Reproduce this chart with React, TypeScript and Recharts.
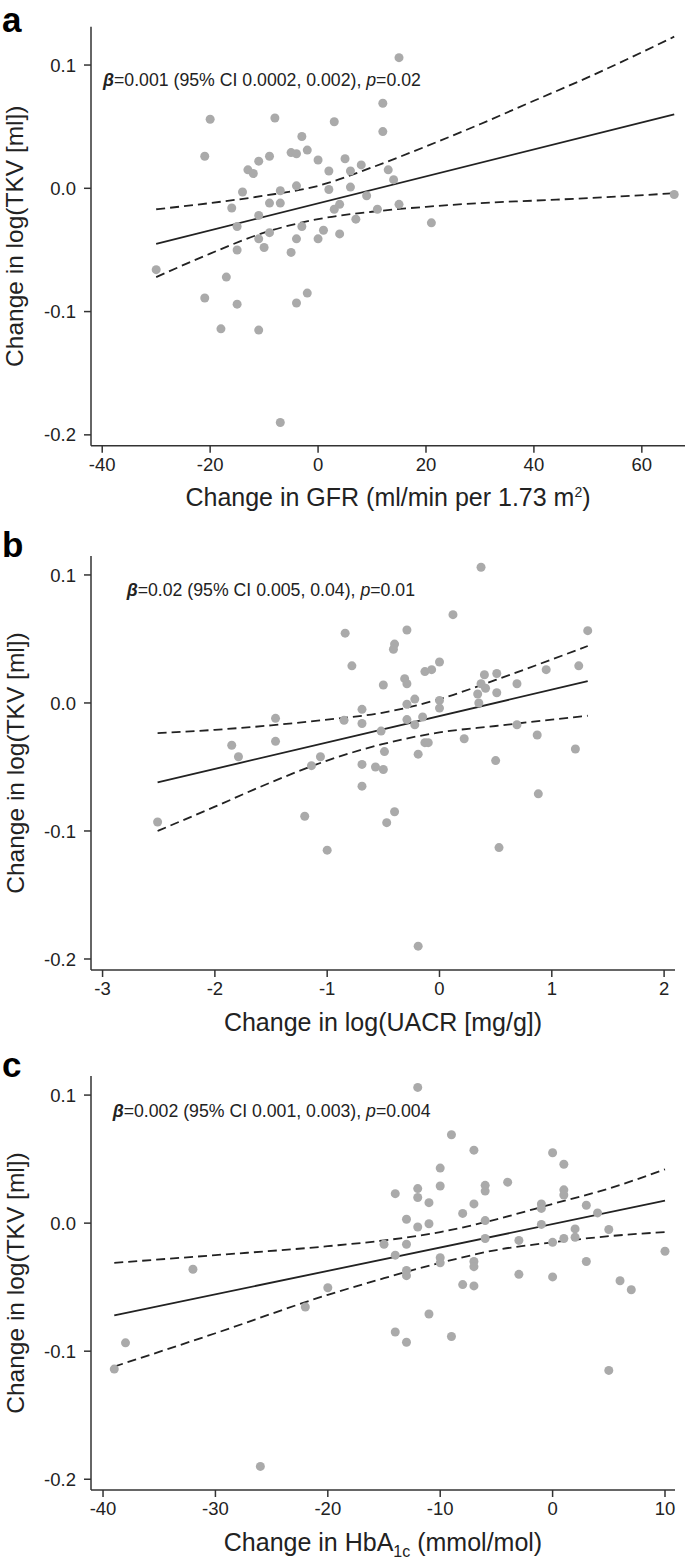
import React from "react"
import { ComposedChart, Scatter, Line, XAxis, YAxis } from "recharts"

const FONT = '"Liberation Sans", Arial, Helvetica, sans-serif'
const INK = "#222"
const AXIS = "#333"
const DOT = "#aaaaaa"

// panel a: change in GFR vs change in log(TKV)
const gfrPoints: [number, number][] = [
  [15, 0.106], [-20, 0.056], [-8, 0.057], [3, 0.054], [12, 0.069], [12, 0.046],
  [-21, 0.026], [-3, 0.042], [-2, 0.031], [-5, 0.029], [-4, 0.028], [-9, 0.026],
  [-11, 0.022], [0, 0.023], [5, 0.024], [8, 0.019], [-13, 0.015], [-12, 0.012],
  [2, 0.014], [6, 0.014], [13, 0.015], [14, 0.007], [-4, 0.002], [6, 0.001],
  [-14, -0.003], [-7, -0.002], [2, -0.001], [9, -0.006], [-9, -0.012], [-7, -0.012],
  [4, -0.013], [15, -0.013], [3, -0.017], [-16, -0.016], [11, -0.017], [-11, -0.022],
  [21, -0.028], [7, -0.025], [-15, -0.031], [-3, -0.031], [1, -0.034], [-9, -0.036],
  [4, -0.037], [-11, -0.041], [-4, -0.041], [0, -0.041], [-15, -0.05], [-10, -0.048],
  [-5, -0.052], [66, -0.005], [-30, -0.066], [-17, -0.072], [-21, -0.089], [-15, -0.094],
  [-2, -0.085], [-4, -0.093], [-18, -0.114], [-11, -0.115], [-7, -0.19],
]
const gfrFit: [number, number][] = [[-30, -0.045], [66, 0.06]]
const gfrUpper: [number, number][] = [
  [-30, -0.017], [-20, -0.012], [-10, -0.006], [0, 0.002], [10, 0.017],
  [20, 0.034], [30, 0.052], [40, 0.071], [50, 0.09], [66, 0.123],
]
const gfrLower: [number, number][] = [
  [-30, -0.072], [-20, -0.053], [-10, -0.036], [0, -0.025], [10, -0.019],
  [20, -0.015], [30, -0.012], [40, -0.01], [50, -0.008], [66, -0.004],
]

// panel b: change in log(UACR)
const uacrPoints: [number, number][] = [
  [-0.84, 0.0545], [-0.29, 0.057], [-0.4, 0.046], [-0.41, 0.042], [-0.78, 0.029], [0, 0.032],
  [-0.13, 0.0245], [-0.07, 0.026], [-0.31, 0.019], [-0.29, 0.015], [-0.5, 0.014], [0.4, 0.022],
  [0.51, 0.023], [0.37, 0.015], [0.41, 0.0115], [0.34, 0.007], [0.51, 0.008], [0.35, 0],
  [0.69, 0.015], [0.95, 0.026], [1.24, 0.029], [1.32, 0.0565], [0, 0.002], [-0.22, 0.003],
  [-0.29, -0.001], [0, -0.004], [-0.69, -0.005], [-1.46, -0.012], [-0.85, -0.0135], [-0.69, -0.016],
  [-0.29, -0.013], [-0.15, -0.011], [-0.22, -0.017], [0.69, -0.017], [-0.52, -0.022], [-1.85, -0.033],
  [-1.79, -0.042], [-1.46, -0.03], [-0.13, -0.031], [-0.1, -0.031], [0.22, -0.028], [0.87, -0.025],
  [1.21, -0.036], [-0.49, -0.038], [-0.19, -0.04], [-1.06, -0.042], [-1.14, -0.049], [-0.69, -0.048],
  [-0.57, -0.05], [-0.5, -0.052], [0.5, -0.045], [-0.69, -0.065], [-2.51, -0.093], [-1.2, -0.0885],
  [-0.4, -0.085], [-0.47, -0.0935], [0.88, -0.071], [-1, -0.115], [0.53, -0.113], [-0.19, -0.19],
  [0.37, 0.106], [0.12, 0.069],
]
const uacrFit: [number, number][] = [[-2.51, -0.062], [1.32, 0.017]]
const uacrUpper: [number, number][] = [
  [-2.51, -0.0236], [-2, -0.021], [-1.5, -0.0175], [-1, -0.013], [-0.5, -0.0075],
  [0, 0.003], [0.5, 0.018], [1, 0.034], [1.32, 0.0445],
]
const uacrLower: [number, number][] = [
  [-2.51, -0.1], [-2, -0.081], [-1.5, -0.062], [-1, -0.045], [-0.5, -0.032],
  [0, -0.023], [0.5, -0.018], [1, -0.013], [1.32, -0.01],
]

// panel c: change in HbA1c
const hbaPoints: [number, number][] = [
  [-9, 0.069], [-7, 0.057], [0, 0.055], [1, 0.046], [-10, 0.043], [-10, 0.029],
  [-6, 0.0295], [-6, 0.025], [-4, 0.032], [-14, 0.023], [-12, 0.027], [-12, 0.02],
  [-11, 0.016], [1, 0.026], [1, 0.022], [-1, 0.015], [-1, 0.0115], [-7, 0.015],
  [-8, 0.0076], [3, 0.014], [4, 0.008], [-13, 0.003], [-12, -0.003], [-11, -0.0005],
  [-6, 0.002], [-1, -0.001], [2, -0.0045], [2, -0.011], [5, -0.005], [-6, -0.012],
  [-3, -0.0135], [0, -0.015], [1, -0.012], [-15, -0.0165], [-13, -0.0165], [-14, -0.025],
  [10, -0.022], [-10, -0.027], [-10, -0.031], [-7, -0.03], [-7, -0.034], [3, -0.03],
  [-13, -0.037], [-13, -0.041], [-3, -0.04], [0, -0.042], [-8, -0.048], [-7, -0.049],
  [6, -0.045], [7, -0.052], [-11, -0.071], [-14, -0.085], [-13, -0.093], [-9, -0.0885],
  [-12, 0.106], [5, -0.115], [-26, -0.19], [-38, -0.0935], [-39, -0.114], [-22, -0.0655],
  [-32, -0.036], [-20, -0.0505],
]
const hbaFit: [number, number][] = [[-39, -0.072], [10, 0.0175]]
const hbaUpper: [number, number][] = [
  [-39, -0.031], [-30, -0.025], [-20, -0.018], [-15, -0.0135], [-10, -0.007],
  [-5, 0.003], [0, 0.015], [5, 0.027], [10, 0.042],
]
const hbaLower: [number, number][] = [
  [-39, -0.112], [-30, -0.086], [-20, -0.056], [-15, -0.043], [-10, -0.031],
  [-5, -0.021], [0, -0.015], [5, -0.0102], [10, -0.007],
]

const gfrTicks = [-40, -20, 0, 20, 40, 60]
const uacrTicks = [-3, -2, -1, 0, 1, 2]
const hbaTicks = [-40, -30, -20, -10, 0, 10]
const tkvTicks = [-0.2, -0.1, 0, 0.1]

const toXY = (pts: [number, number][]) => pts.map(([x, y]) => ({ x, y }))

interface PanelProps {
  letter: string
  letterY: number
  points: [number, number][]
  fit: [number, number][]
  upper: [number, number][]
  lower: [number, number][]
  xDomain: [number, number]
  yDomain: [number, number]
  xTicks: number[]
  top: number
  right: number
  bottom: number
  note: React.ReactNode
  noteX: number
  noteY: number
  xTitle: React.ReactNode
}

const W = 685
const H = 520
const PLOT_LEFT = 91
const X_AXIS_H = 70
const Y_TITLE_X = 23.5

function Panel(p: PanelProps) {
  const plotBottom = H - p.bottom - X_AXIS_H
  const plotMidX = (PLOT_LEFT + W - p.right) / 2
  const plotMidY = (p.top + plotBottom) / 2
  const dashed = { stroke: INK, strokeWidth: 1.8, strokeDasharray: "9 5", dot: false, isAnimationActive: false }

  return (
    <div style={{ position: "relative", width: W, height: H }}>
      <ComposedChart width={W} height={H} margin={{ top: p.top, right: p.right, bottom: p.bottom, left: 11 }}>
        <XAxis
          type="number"
          dataKey="x"
          domain={p.xDomain}
          ticks={p.xTicks}
          allowDataOverflow
          height={X_AXIS_H}
          stroke={AXIS}
          strokeWidth={1.5}
          tickSize={7}
          tickMargin={5}
          tick={{ fill: INK, fontSize: 18.5, fontFamily: FONT }}
          label={{
            content: () => (
              <text x={plotMidX} y={plotBottom + 60.5} textAnchor="middle" fill={INK} fontSize={25} fontFamily={FONT}>
                {p.xTitle}
              </text>
            ),
          }}
        />
        <YAxis
          type="number"
          dataKey="y"
          domain={p.yDomain}
          ticks={tkvTicks}
          allowDataOverflow
          width={80}
          stroke={AXIS}
          strokeWidth={1.5}
          tickSize={7}
          tickMargin={8}
          tickFormatter={(v: number) => v.toFixed(1)}
          tick={{ fill: INK, fontSize: 18.5, fontFamily: FONT }}
          label={{
            content: () => (
              <text
                x={Y_TITLE_X}
                y={plotMidY}
                transform={`rotate(-90, ${Y_TITLE_X}, ${plotMidY})`}
                textAnchor="middle"
                fill={INK}
                fontSize={24.5}
                fontFamily={FONT}
              >
                Change in log(TKV [ml])
              </text>
            ),
          }}
        />
        <Scatter
          data={toXY(p.points)}
          isAnimationActive={false}
          shape={(s: any) => <circle cx={s.cx} cy={s.cy} r={4.5} fill={DOT} />}
        />
        <Line data={toXY(p.fit)} dataKey="y" type="linear" stroke={INK} strokeWidth={1.8} dot={false} isAnimationActive={false} />
        <Line data={toXY(p.upper)} dataKey="y" type="monotone" {...dashed} />
        <Line data={toXY(p.lower)} dataKey="y" type="monotone" {...dashed} />
      </ComposedChart>
      <svg width={W} height={H} style={{ position: "absolute", left: 0, top: 0, pointerEvents: "none" }}>
        <text x={2} y={p.letterY} fontSize={35} fontWeight="bold" fontFamily={FONT} fill="#000">
          {p.letter}
        </text>
        <text x={p.noteX} y={p.noteY} fontSize={17.7} fontFamily={FONT} fill={INK}>
          {p.note}
        </text>
      </svg>
    </div>
  )
}

const beta = (
  <tspan fontWeight="bold" fontStyle="italic">
    β
  </tspan>
)
const pItal = <tspan fontStyle="italic">p</tspan>

export default function App() {
  return (
    <div style={{ position: "absolute", left: 0, top: 0, width: W, height: 1560, background: "#fff" }}>
      <Panel
        letter="a"
        letterY={32}
        points={gfrPoints}
        fit={gfrFit}
        upper={gfrUpper}
        lower={gfrLower}
        xDomain={[-42.08, 68.0]}
        yDomain={[-0.2088, 0.1311]}
        xTicks={gfrTicks}
        top={26.7}
        right={0}
        bottom={4.3}
        noteX={103}
        noteY={86}
        note={<>{beta}=0.001 (95% CI 0.0002, 0.002), {pItal}=0.02</>}
        xTitle={
          <>
            Change in GFR (ml/min per 1.73 m
            <tspan dy={-9} fontSize={14}>2</tspan>
            <tspan dy={9}>)</tspan>
          </>
        }
      />
      <Panel
        letter="b"
        letterY={36.7}
        points={uacrPoints}
        fit={uacrFit}
        upper={uacrUpper}
        lower={uacrLower}
        xDomain={[-3.103, 2.097]}
        yDomain={[-0.2086, 0.1148]}
        xTicks={uacrTicks}
        top={36}
        right={10}
        bottom={0}
        noteX={126.7}
        noteY={76}
        note={<>{beta}=0.02 (95% CI 0.005, 0.04), {pItal}=0.01</>}
        xTitle={<>Change in log(UACR [mg/g])</>}
      />
      <Panel
        letter="c"
        letterY={37.3}
        points={hbaPoints}
        fit={hbaFit}
        upper={hbaUpper}
        lower={hbaLower}
        xDomain={[-41.07, 10.89]}
        yDomain={[-0.2084, 0.1149]}
        xTicks={hbaTicks}
        top={36}
        right={10}
        bottom={0}
        noteX={112.7}
        noteY={76.5}
        note={<>{beta}=0.002 (95% CI 0.001, 0.003), {pItal}=0.004</>}
        xTitle={
          <>
            Change in HbA
            <tspan dy={6} fontSize={16}>1c</tspan>
            <tspan dy={-6}> (mmol/mol)</tspan>
          </>
        }
      />
    </div>
  )
}
